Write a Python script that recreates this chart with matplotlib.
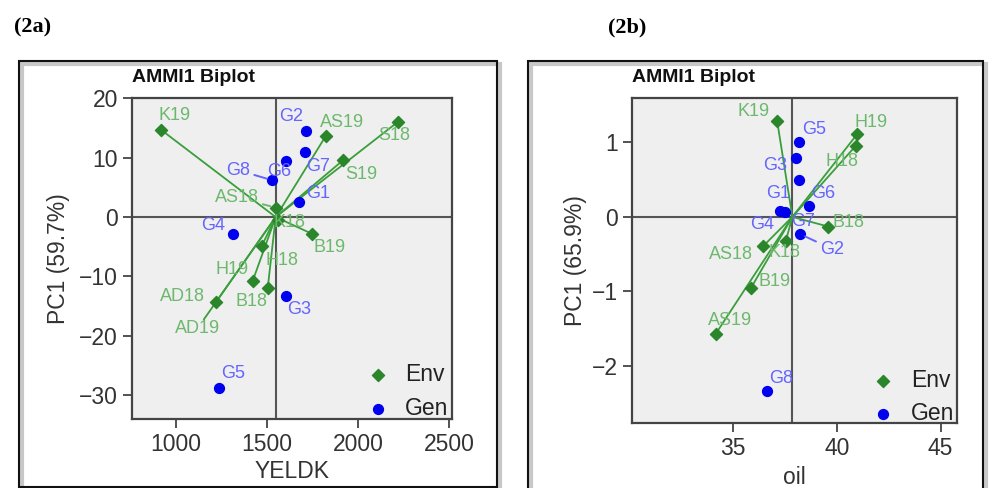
import matplotlib.pyplot as plt
import matplotlib.patches as patches

plt.rcParams['font.family'] = ['Liberation Sans', 'DejaVu Sans']

# ---- data (2a) YELDK ----
env_a = ['K19', 'AS19', 'S18', 'S19', 'AS18', 'K18', 'B19', 'H18', 'H19', 'B18', 'AD18', 'AD19']
env_a_x = [918, 1824, 2218, 1919, 1548, 1560, 1746, 1471, 1421, 1504, 1220, 1154]
env_a_y = [14.7, 13.7, 16.0, 9.6, 1.6, -0.5, -2.8, -4.9, -10.8, -12.0, -14.3, -17.2]
gen_a = ['G2', 'G7', 'G6', 'G8', 'G1', 'G4', 'G3', 'G5']
gen_a_x = [1713, 1709, 1603, 1529, 1676, 1312, 1603, 1236]
gen_a_y = [14.5, 11.0, 9.4, 6.2, 2.5, -2.8, -13.3, -28.7]
mean_a = 1548

# ---- data (2b) oil ----
env_b = ['K19', 'H19', 'H18', 'B18', 'AS18', 'K18', 'B19', 'AS19']
env_b_x = [37.12, 40.98, 40.90, 39.58, 36.45, 37.54, 35.84, 34.15]
env_b_y = [1.28, 1.11, 0.95, -0.13, -0.39, -0.32, -0.96, -1.57]
gen_b = ['G5', 'G3', 'G1', 'G6', 'G4', 'G7', 'G2', 'G8']
gen_b_x = [38.18, 38.02, 38.17, 38.65, 37.25, 37.49, 38.22, 36.64]
gen_b_y = [1.00, 0.79, 0.49, 0.15, 0.08, 0.07, -0.23, -2.34]
mean_b = 37.85

# label offsets in pixels (dx, dy), and which ones get a leader line
off_a = {'K19': (14, 14), 'AS19': (16, 13), 'S18': (-3, -13), 'S19': (18, -14),
         'AS18': (-39, 10), 'K18': (12, -2), 'B19': (18, -14), 'H18': (20, -14),
         'H19': (-21, 12), 'B18': (-16, -13), 'AD18': (-34, 5), 'AD19': (-6, -9),
         'G2': (-15, 14), 'G7': (13, -15), 'G6': (-7, -10), 'G8': (-34, 10),
         'G1': (19, 9), 'G4': (-20, 8), 'G3': (13, -13), 'G5': (14, 14)}
off_b = {'K19': (-24, 10), 'H19': (14, 12), 'H18': (-14, -15), 'B18': (20, 4),
         'AS18': (-32, -9), 'K18': (-1, -12), 'B19': (24, 7), 'AS19': (14, 13),
         'G5': (15, 13), 'G3': (-21, -8), 'G1': (-21, -13), 'G6': (14, 12),
         'G4': (-18, -14), 'G7': (18, -10), 'G2': (32, -15), 'G8': (14, 13)}
leader_a = ['AS18', 'G8']
leader_b = ['G2']
no_marker_a = ['AD19']

ENV_C = '#2b862b'
LINE_C = '#3a9e3a'
ENV_TXT = '#6cb86c'
GEN_C = '#0000ee'
GEN_TXT = '#6464ff'
AX_C = '#444444'
FS = 16.5


def biplot(ax, env, ex, ey, gen, gx, gy, mean, offs, leaders, no_marker, xlabel, ylabel):
    ax.set_facecolor('#efefef')
    ax.axhline(0, color='#555555', lw=1.5, zorder=1)
    ax.axvline(mean, color='#555555', lw=1.5, zorder=1)
    for x, y in zip(ex, ey):
        ax.plot([mean, x], [0, y], color=LINE_C, lw=1.3, zorder=2)
    mx = [x for n, x in zip(env, ex) if n not in no_marker]
    my = [y for n, y in zip(env, ey) if n not in no_marker]
    ax.scatter(mx, my, marker='D', s=38, color=ENV_C, zorder=3, label='Env')
    ax.scatter(gx, gy, marker='o', s=50, color=GEN_C, zorder=3, label='Gen')
    for names, xs, ys, col in [(env, ex, ey, ENV_TXT), (gen, gx, gy, GEN_TXT)]:
        for n, x, y in zip(names, xs, ys):
            ap = None
            if n in leaders:
                ap = dict(arrowstyle='-', color=col, lw=1.4, shrinkA=1, shrinkB=4)
            ax.annotate(n, (x, y), xytext=offs[n], textcoords='offset pixels',
                        ha='center', va='center', fontsize=13, color=col,
                        arrowprops=ap, zorder=4)
    for s in ax.spines.values():
        s.set_color(AX_C)
        s.set_linewidth(1.6)
    ax.tick_params(direction='out', length=6.5, width=1.3, color=AX_C,
                   labelsize=FS, labelcolor='#333333', pad=3.5)
    ax.set_xlabel(xlabel, fontsize=FS, color='#333333')
    ax.set_ylabel(ylabel, fontsize=FS, color='#333333')
    ax.text(0, 1.064, 'AMMI1 Biplot', transform=ax.transAxes, fontsize=14,
            fontweight='bold', color='#111111', va='center', ha='left')


fig = plt.figure(figsize=(9.97, 4.88), dpi=100)

# outer frames with a soft shadow
for x0, x1, y1 in [(19, 497, 487), (528, 983, 492)]:
    W, H = 997, 488
    sh = patches.Rectangle(((x0 + 3) / W, 1 - (y1 + 3) / H), (x1 - x0) / W, (y1 - 61) / H,
                           transform=fig.transFigure, fill=False, ec='#c8c8c8', lw=3,
                           clip_on=False)
    fr = patches.Rectangle((x0 / W, 1 - y1 / H), (x1 - x0) / W, (y1 - 61) / H,
                           transform=fig.transFigure, fill=False, ec='#111111', lw=1.5,
                           clip_on=False)
    fig.add_artist(sh)
    fig.add_artist(fr)

fig.text(14 / 997, 1 - 27 / 488, '(2a)', family=['Liberation Serif'], fontweight='bold',
         fontsize=16, va='center', ha='left')
fig.text(608 / 997, 1 - 27 / 488, '(2b)', family=['Liberation Serif'], fontweight='bold',
         fontsize=16, va='center', ha='left')

axa = fig.add_axes([0.1321, 0.1414, 0.321, 0.6584])
biplot(axa, env_a, env_a_x, env_a_y, gen_a, gen_a_x, gen_a_y, mean_a, off_a,
       leader_a, no_marker_a, 'YELDK', 'PC1 (59.7%)')
axa.set_xlim(757, 2515)
axa.set_ylim(-34.0, 20.1)
axa.set_xticks([1000, 1500, 2000, 2500])
axa.set_yticks([20, 10, 0, -10, -20, -30])
axa.xaxis.set_label_coords(0.5, -0.128)
axa.yaxis.set_label_coords(-0.193, 0.5)
axa.legend(loc='upper left', bbox_to_anchor=(0.741, 0.173), frameon=False, fontsize=FS,
           handlelength=0.8, handletextpad=0.78, labelspacing=0.48, borderpad=0,
           borderaxespad=0, labelcolor='#222222')

axb = fig.add_axes([0.6336, 0.1338, 0.326, 0.6648])
biplot(axb, env_b, env_b_x, env_b_y, gen_b, gen_b_x, gen_b_y, mean_b, off_b,
       leader_b, [], 'oil', 'PC1 (65.9%)')
axb.set_xlim(30.1, 45.78)
axb.set_ylim(-2.76, 1.59)
axb.set_xticks([35, 40, 45])
axb.set_yticks([1, 0, -1, -2])
axb.xaxis.set_label_coords(0.5, -0.133)
axb.yaxis.set_label_coords(-0.138, 0.5)
axb.legend(loc='upper left', bbox_to_anchor=(0.744, 0.167), frameon=False, fontsize=FS,
           handlelength=0.8, handletextpad=0.83, labelspacing=0.45, borderpad=0,
           borderaxespad=0, labelcolor='#222222')

fig.savefig('out.png', dpi=100)
